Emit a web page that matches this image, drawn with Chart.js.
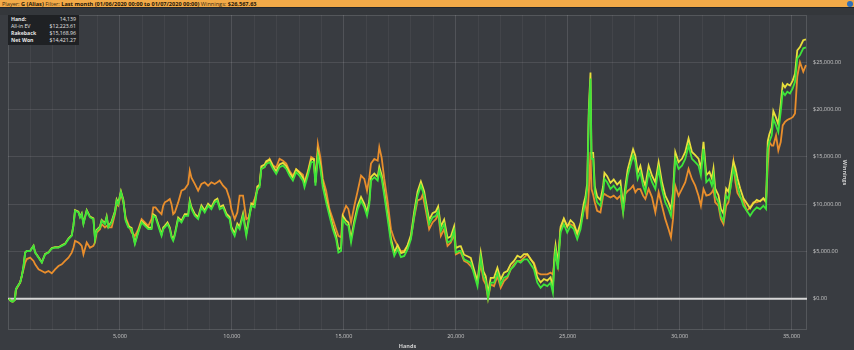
<!DOCTYPE html>
<html>
<head>
<meta charset="utf-8">
<script src="https://cdn.jsdelivr.net/npm/chart.js@4/dist/chart.umd.min.js"></script>
<style>
  html,body{margin:0;padding:0;background:#393c41;width:854px;height:350px;overflow:hidden;font-family:"Open Sans","DejaVu Sans",sans-serif;}
  #wrap{position:relative;width:854px;height:350px;}
  #hdr{position:absolute;left:0;top:0;width:854px;height:8px;background:#f2aa48;border-bottom:1px solid #23262a;font-size:5.6px;line-height:8px;color:#3a2a10;white-space:nowrap;padding-left:2px;box-sizing:border-box;}
  #hdr b{color:#1e1608;}
  #help{position:absolute;right:1px;top:1px;width:6px;height:6px;border-radius:50%;background:#2f6fb8;}
  #cv{position:absolute;left:0;top:0;}
  #tip{position:absolute;left:8px;top:15px;width:71px;height:30px;background:#1f2124;color:#e6e6e6;font-size:5.2px;line-height:7px;box-sizing:border-box;padding:1px 3px;}
  #tip div{display:flex;justify-content:space-between;}
</style>
</head>
<body>
<div id="wrap">
  <canvas id="cv" width="854" height="350"></canvas>
  <div id="hdr">Player: <b>G (Alias)</b> Filter: <b>Last month (01/06/2020 00:00 to 01/07/2020 00:00)</b> Winnings: <b>$26,567.63</b></div>
  <div id="help"></div>
  <div id="tip">
    <div><b>Hand:</b><span>14,139</span></div>
    <div><span>All-in EV</span><span>$12,223.61</span></div>
    <div><b>Rakeback</b><span>$15,168.96</span></div>
    <div><b>Net Won</b><span>$14,421.27</span></div>
  </div>
</div>
<script>
const hands = [53,129,218,307,352,397,544,619,695,766,842,989,1141,1212,1364,1511,1658,1809,1956,2103,2255,2402,2549,2700,2847,2923,2994,3146,3217,3293,3369,3516,3663,3814,3886,3961,4108,4184,4331,4407,4483,4630,4777,4853,4928,5044,5151,5254,5374,5521,5668,5820,5967,6114,6265,6412,6488,6590,6711,6858,6933,7005,7125,7228,7303,7379,7450,7602,7749,7896,8048,8119,8195,8342,8493,8640,8787,8939,9086,9233,9353,9456,9607,9754,9901,9977,10124,10244,10347,10498,10645,10748,10868,11015,11136,11238,11314,11461,11537,11684,11835,11982,12129,12281,12428,12575,12726,12873,13020,13172,13243,13395,13542,13662,13733,13840,13956,14063,14210,14357,14509,14656,14758,14878,14954,15101,15204,15324,15471,15623,15770,15917,16037,16140,16215,16362,16514,16585,16692,16808,16960,17107,17254,17405,17552,17699,17851,17998,18145,18296,18443,18519,18590,18666,18813,18965,19112,19214,19335,19482,19633,19780,19927,20003,20150,20226,20373,20524,20671,20818,20970,21117,21237,21340,21442,21562,21709,21861,22008,22155,22307,22454,22601,22752,22899,23046,23198,23345,23492,23644,23791,23938,24089,24236,24339,24414,24459,24561,24682,24829,24980,25127,25274,25426,25573,25720,25796,25872,25943,26019,26063,26139,26210,26317,26464,26584,26642,26763,26910,27057,27209,27355,27476,27578,27681,27801,27921,28024,28126,28247,28367,28469,28616,28768,28915,29062,29213,29361,29507,29614,29704,29806,29953,30105,30252,30399,30550,30697,30844,30951,31067,31192,31334,31441,31513,31589,31736,31843,31958,32079,32181,32288,32404,32493,32582,32703,32850,33001,33148,33295,33447,33594,33741,33861,33937,34008,34115,34186,34307,34409,34516,34605,34708,34810,34931,35051,35154,35256,35376,35523,35642];

const netWon = [0,-250,-300,-100,1000,1200,1730,2400,3460,4880,5050,5050,5590,4880,4350,3820,4700,4880,5310,5400,5400,5590,5770,6300,6650,7710,9300,9130,8600,8950,7890,9300,8600,8420,6300,7180,7540,8240,7890,8600,7540,8070,9130,10370,10010,11260,10370,8240,7540,7360,5770,7000,8070,7710,7360,7360,8770,8600,7710,6650,7360,7540,7890,7360,6480,6120,6650,8420,8070,8770,8770,10190,9480,8770,8420,9660,9130,9830,9480,10190,10370,9480,9660,8770,8420,7360,6650,7710,7360,8770,6650,8070,9830,9660,11610,11790,13730,13910,14260,14440,13730,13200,13910,14080,13730,13020,12490,13380,13020,12490,11790,13020,14440,14440,11960,15140,13730,11790,10190,8770,7360,6300,4880,5060,8420,7890,7710,5950,7890,9480,10370,9660,8770,10000,12490,12850,12490,13550,12670,10900,8420,5950,4530,5240,4400,4530,5240,6300,8770,10900,11960,11430,10900,9830,7890,8600,8770,9300,7180,7890,5950,6120,7180,4880,5060,5060,4170,4000,3820,2580,1340,4350,2400,1870,100,1700,1700,2760,1520,2230,2400,3110,3460,4000,3820,4170,4170,3640,3110,1700,1170,1520,1340,1700,640,4170,5060,3110,7010,7890,7010,7710,7360,6300,7360,9480,10190,11610,19390,23290,14790,14790,11260,10190,9830,11260,12670,12320,11610,11960,11430,11790,9130,11260,13020,14080,15140,14440,12670,13380,11960,11260,13380,12320,11610,13730,11610,10190,9480,8770,10550,14790,13730,14080,14790,16210,14790,14440,14080,13020,15850,12320,12670,11960,13020,10900,10190,8770,8240,10900,10550,11960,13730,13020,11960,10900,9830,9300,8770,9300,9660,9480,9830,9480,15850,16570,17270,19040,18330,17630,19750,21880,21520,21880,21700,22230,22940,25410,25760,26480,26570];

const allInEV = [0,-250,-300,-100,900,1100,1700,2500,3110,3820,4200,4350,4000,3640,3110,2940,2760,2940,2700,3110,3460,3640,4000,4350,4880,5400,6120,5950,5800,5590,4700,5950,5400,5590,5950,7000,7360,7890,7540,7700,7540,7540,8950,10010,9830,11080,10200,8600,7890,7010,6650,7360,8420,8070,7710,8420,9660,9660,9300,8950,9830,10200,10370,10550,10000,8950,9130,10190,11430,11600,12140,13550,12800,12140,11430,12140,12320,11960,12320,12140,12320,12490,11960,11600,10550,9480,8420,9130,10900,10900,8420,8600,9660,10550,11430,12000,13730,13910,14260,14800,14100,13900,14800,14600,14300,13500,13000,13700,13400,13100,12300,13500,15000,14800,12300,16380,14900,12670,11430,9480,8420,7360,6650,6500,8950,9830,9480,8070,9830,11430,13020,12670,11430,12800,14300,14790,14600,16030,14900,12670,10200,7360,6300,5600,5000,5100,5600,6450,8600,10400,10550,11000,10200,9300,7360,8070,8420,9000,6650,7360,5600,5950,6800,4700,4880,4880,4000,3820,3460,2900,1700,3640,2000,1520,0,1520,1340,2400,1170,1870,2230,3110,3640,4000,4000,4350,4700,4170,3820,2760,2580,2580,2580,2760,2580,4170,4530,3460,7360,8420,7710,7890,7710,6830,7710,9480,10190,8420,11260,15500,11600,11000,10200,9300,9130,10900,11080,10900,10700,10900,10550,10900,9130,11080,11400,11610,11960,11260,11600,11600,10900,10550,11610,10720,9130,11260,9830,8420,7360,6480,8420,11960,10900,11610,12320,13730,12670,11960,10900,9830,11600,10900,11000,11250,11600,10190,9830,8420,7890,9830,10190,12000,14440,12320,11200,10720,10370,9300,9660,10190,10190,10370,10550,10190,14000,16570,16200,16200,17270,15680,16570,18330,18700,18900,19040,19200,19600,23500,25000,24000,24700];

const rakeback = [0,-245,-295,-90,1010,1210,1740,2420,3480,4900,5070,5070,5620,4910,4380,3860,4740,4920,5360,5450,5450,5650,5830,6360,6720,7780,9370,9210,8680,9030,7970,9380,8690,8510,6390,7280,7640,8340,8000,8710,7650,8180,9240,10490,10130,11380,10490,8370,7670,7490,5910,7140,8210,7860,7510,7510,8930,8760,7870,6810,7530,7710,8060,7530,6660,6300,6830,8600,8260,8960,8960,10380,9680,8970,8620,9870,9340,10040,9700,10410,10590,9710,9890,9000,8660,7600,6890,7960,7610,9020,6910,8330,10090,9920,11880,12060,14000,14180,14540,14720,14010,13490,14200,14370,14030,13320,12800,13690,13330,12810,12110,13340,14770,14770,12290,15470,14070,12130,10530,9110,7710,6650,5230,5420,8780,8250,8070,6320,8260,9850,10750,10040,9150,10390,12880,13240,12890,13950,13070,11300,8830,6360,4940,5660,4820,4950,5670,6730,9210,11340,12400,11870,11350,10280,8340,9060,9230,9760,7640,8360,6420,6590,7660,5360,5540,5550,4660,4490,4320,3080,1840,4860,2910,2380,610,2220,2220,3280,2050,2760,2940,3650,4000,4550,4370,4720,4730,4200,3670,2270,1740,2090,1920,2280,1220,4760,5650,3700,7600,8490,7610,8310,7970,6910,7970,10100,10810,12230,20010,23910,15420,15420,11890,10820,10460,11900,13310,12960,12260,12610,12080,12450,9790,11920,13680,14750,15810,15110,13350,14060,12640,11940,14070,13010,12300,14430,12310,10890,10190,9480,11260,15510,14450,14800,15520,16940,15520,15180,14820,13760,16600,13070,13420,12720,13780,11660,10950,9530,9010,11670,11320,12740,14510,13800,12740,11690,10620,10090,9570,10100,10460,10290,10640,10290,16660,17390,18090,19860,19150,18460,20580,22710,22350,22720,22540,23070,23780,26260,26610,27330,27420];

const yTickValues = [0,5000,10000,15000,20000,25000];
const xLabelValues = [5000,10000,15000,20000,25000,30000,35000];

function pts(arr){ return hands.map((h,i)=>({x:h,y:arr[i]})); }

const fmtMoney = v => '$' + v.toLocaleString('en-US',{minimumFractionDigits:2,maximumFractionDigits:2});

const frame = {
  id:'frame',
  beforeDraw(c){
    const {ctx,chartArea:a}=c;
    ctx.save();
    ctx.fillStyle='#34373b';
    ctx.fillRect(0,0,854,15);
    ctx.fillStyle='#393c41';
    ctx.fillRect(a.left,a.top,a.right-a.left,a.bottom-a.top);
    ctx.restore();
  },
  beforeDatasetsDraw(c){
    const {ctx,chartArea:a,scales}=c;
    ctx.save();
    ctx.strokeStyle='rgba(255,255,255,0.14)';
    ctx.lineWidth=1;
    ctx.strokeRect(a.left+0.5,a.top+0.5,a.right-a.left-1,a.bottom-a.top-1);
    const y0=scales.y.getPixelForValue(0);
    ctx.strokeStyle='#d6d6d6';
    ctx.lineWidth=2;
    ctx.beginPath();ctx.moveTo(a.left,y0);ctx.lineTo(a.right,y0);ctx.stroke();
    ctx.restore();
  }
};

new Chart(document.getElementById('cv'),{
  type:'line',
  data:{datasets:[
    {label:'Net Won',data:pts(netWon),borderColor:'#3ee43a',borderWidth:1.8,pointRadius:0,tension:0},
    {label:'Rakeback',data:pts(rakeback),borderColor:'#e9df3b',borderWidth:1.8,pointRadius:0,tension:0},
    {label:'All-in EV',data:pts(allInEV),borderColor:'#e98e2c',borderWidth:1.8,pointRadius:0,tension:0}
  ]},
  options:{
    responsive:false,animation:false,events:[],
    layout:{padding:{left:8,top:15,right:0,bottom:0}},
    plugins:{legend:{display:false},tooltip:{enabled:false}},
    scales:{
      x:{type:'linear',min:0,max:35690,
        afterFit(s){s.height=20;},
        afterBuildTicks(s){const t=[];for(let v=1000;v<=35000;v+=1000)t.push({value:v});s.ticks=t;},
        grid:{drawTicks:false,color:ctx=>ctx.tick&&ctx.tick.value%5000===0?'rgba(255,255,255,0.12)':'rgba(255,255,255,0.05)'},
        border:{display:false},
        ticks:{autoSkip:false,maxRotation:0,padding:3,color:'#c9c9c9',font:{size:5.5,family:'"Open Sans"'},
          callback:v=>xLabelValues.includes(v)?v.toLocaleString('en-US'):''},
        title:{display:true,text:'Hands',color:'#d0d0d0',font:{size:5.5,weight:'bold',family:'"Open Sans"'},padding:{top:0,bottom:0}}
      },
      y:{type:'linear',position:'right',min:-3300,max:30000,
        afterFit(s){s.width=47;},
        afterBuildTicks(s){s.ticks=yTickValues.map(v=>({value:v}));},
        grid:{drawTicks:false,color:'rgba(255,255,255,0.10)'},
        border:{display:false},
        ticks:{padding:6,color:'#c9c9c9',font:{size:5.5,family:'"Open Sans"'},callback:v=>fmtMoney(v)},
        title:{display:true,text:'Winnings',color:'#d0d0d0',font:{size:5.5,weight:'bold',family:'"Open Sans"'},padding:{top:6,bottom:0}}
      }
    }
  },
  plugins:[frame]
});
</script>
</body>
</html>
